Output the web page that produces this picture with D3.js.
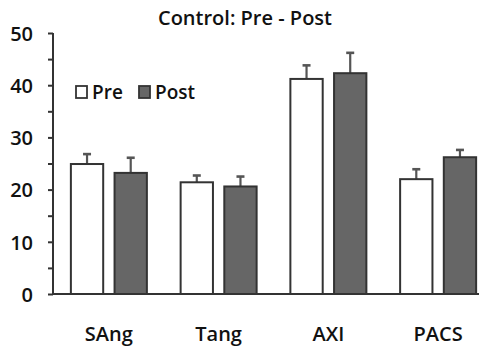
<!DOCTYPE html>
<html>
<head>
<meta charset="utf-8">
<script src="https://cdn.jsdelivr.net/npm/d3@7/dist/d3.min.js"></script>
<style>
  body { margin: 0; background: #fff; }
  text { font-family: "Open Sans", sans-serif; fill: #111; }
</style>
</head>
<body>
<svg id="chart" width="480" height="346"></svg>
<script>
var categories = ["SAng", "Tang", "AXI", "PACS"];
var seriesNames = ["Pre", "Post"];
var preValues = [24.9, 21.4, 41.2, 22.0];
var preErrors = [1.9, 1.3, 2.6, 1.9];
var postValues = [23.2, 20.6, 42.3, 26.2];
var postErrors = [2.9, 1.9, 3.9, 1.4];
var yTicks = [0, 10, 20, 30, 40, 50];

var width = 480, height = 346;
var axisX = 53;
var fills = ["#ffffff", "#666666"];

var svg = d3.select("#chart");

var x = d3.scaleBand()
    .domain(categories)
    .range([54, 493]);
var inner = d3.scaleBand()
    .domain(seriesNames)
    .range([-38, 38])
    .paddingInner(0.26);
var y = d3.scaleLinear()
    .domain([0, 50])
    .range([294, 33]);

var rows = [];
categories.forEach(function (c, i) {
    rows.push({cat: c, s: "Pre", v: preValues[i], e: preErrors[i]});
    rows.push({cat: c, s: "Post", v: postValues[i], e: postErrors[i]});
});

// error bars (behind bars)
var err = svg.append("g").attr("stroke", "#555").attr("stroke-width", 2.2);
rows.forEach(function (d) {
    var cx = x(d.cat) + x.bandwidth() / 2 + inner(d.s) + inner.bandwidth() / 2;
    err.append("line")
        .attr("x1", cx).attr("x2", cx)
        .attr("y1", y(d.v)).attr("y2", y(d.v + d.e));
    err.append("line")
        .attr("x1", cx - 4).attr("x2", cx + 4)
        .attr("y1", y(d.v + d.e)).attr("y2", y(d.v + d.e))
        .attr("stroke-width", 2.6);
});

svg.append("g")
    .selectAll("rect")
    .data(rows)
    .enter()
    .append("rect")
    .attr("x", d => x(d.cat) + x.bandwidth() / 2 + inner(d.s))
    .attr("width", inner.bandwidth())
    .attr("y", d => y(d.v))
    .attr("height", d => y(0) - y(d.v))
    .attr("fill", d => fills[seriesNames.indexOf(d.s)])
    .attr("stroke", "#333")
    .attr("stroke-width", 2);

// y axis
var yAxis = d3.axisLeft(y)
    .tickValues(d3.range(0, 51, 5))
    .tickSize(5)
    .tickFormat(d => yTicks.indexOf(d) >= 0 ? d : "");
var ya = svg.append("g")
    .attr("transform", "translate(" + axisX + ",0)")
    .call(yAxis);
ya.select(".domain").remove();
ya.selectAll("line").attr("stroke", "#333").attr("stroke-width", 2);
ya.selectAll("text")
    .attr("x", -20)
    .attr("dy", "0.36em")
    .style("font-size", "20px")
    .style("font-weight", 600)
    .style("font-family", "'Open Sans', sans-serif")
    .attr("fill", "#111");

svg.append("line")
    .attr("x1", axisX).attr("x2", axisX)
    .attr("y1", y(50)).attr("y2", y(0) + 1)
    .attr("stroke", "#333").attr("stroke-width", 2);
svg.append("line")
    .attr("x1", axisX - 1).attr("x2", 479)
    .attr("y1", y(0)).attr("y2", y(0))
    .attr("stroke", "#333").attr("stroke-width", 2);

// category labels
svg.append("g")
    .selectAll("text")
    .data(categories)
    .enter()
    .append("text")
    .attr("x", d => x(d) + x.bandwidth() / 2)
    .attr("y", 341)
    .attr("text-anchor", "middle")
    .style("font-size", "20px")
    .style("font-weight", 600)
    .text(d => d);

// title
svg.append("text")
    .attr("x", 245)
    .attr("y", 25)
    .attr("text-anchor", "middle")
    .style("font-size", "20px")
    .style("font-weight", 600)
    .text("Control: Pre - Post");

// legend
var legX = [76, 139];
var leg = svg.append("g")
    .selectAll("g")
    .data(seriesNames)
    .enter()
    .append("g")
    .attr("transform", (d, i) => "translate(" + legX[i] + ",86)");
leg.append("rect")
    .attr("width", 11).attr("height", 12)
    .attr("fill", (d, i) => fills[i])
    .attr("stroke", "#333").attr("stroke-width", 1.8);
leg.append("text")
    .attr("x", 16).attr("y", 13)
    .style("font-size", "19px")
    .style("font-weight", 600)
    .text(d => d);
</script>
</body>
</html>
